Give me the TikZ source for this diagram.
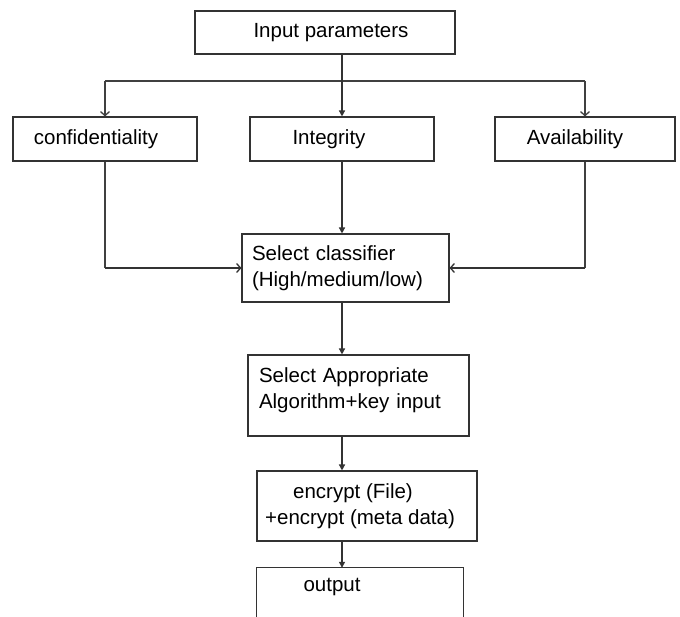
\documentclass[tikz,border=0pt]{standalone}
\usepackage{fontspec}
\setmainfont{Liberation Sans}
\usetikzlibrary{arrows.meta,shadows}
\begin{document}
\begin{tikzpicture}[x=1pt,y=-1pt,
  box/.style={draw=black!80, fill=white, line width=1.1pt, rectangle, inner sep=0pt,
    drop shadow={shadow xshift=1.3pt, shadow yshift=-1.3pt, fill=black!45, opacity=1},
    font=\fontsize{20.5}{26}\selectfont},
  thin/.style={draw=black!80, line width=1.4pt},
  thick/.style={draw=black!75, line width=2.8pt},
  filledtip/.style={-{Triangle[length=6pt,width=6pt]}},
  opentip/.style={-{Straight Barb[length=4pt,width=9pt,line width=1.3pt]}}
]
\useasboundingbox (0,0) rectangle (680,617);
\fill[white] (0,0) rectangle (680,617);

% boxes
\node[box, minimum width=260pt, minimum height=43pt] (inp) at (325,32.5) {\hspace{12pt}Input parameters};
\node[box, minimum width=184pt, minimum height=44pt] (conf) at (105,139) {\hspace{-18pt}confidentiality};
\node[box, minimum width=184pt, minimum height=44pt] (integ) at (342,139) {\hspace{-26pt}Integrity};
\node[box, minimum width=180pt, minimum height=44pt] (avail) at (585,139) {\hspace{-20pt}Availability};
\node[box, minimum width=207pt, minimum height=68pt, align=left, text width=187pt] (cls) at (345.5,268) {Select classifier\\(High/medium/low)};
\node[box, minimum width=221pt, minimum height=81pt, align=left, text width=199pt] (alg) at (358.5,395.5) {Select Appropriate\\Algorithm+key input\\[-12pt]\mbox{}};
\node[box, minimum width=220pt, minimum height=70pt, align=center] (enc) at (367,506) {\hspace{-28pt}encrypt (File)\\\hspace{-14pt}+encrypt (meta data)};
\node[minimum width=206pt, minimum height=49pt, inner sep=0pt] (out) at (360,592.5) {};
\node[font=\fontsize{20.5}{26}\selectfont, inner sep=0pt] (outtxt) at (332,587) {output};
\draw[draw=black!80, line width=1.1pt] (out.south west) |- (out.north east) -- (out.south east);

% top distribution
\coordinate (hl) at (105,81);
\coordinate (hr) at (585,81);
\draw[thick] (hl) -- (hr);
\draw[thin] (inp.south -| integ.north) -- (integ.north |- hl);
\draw[thick, opentip] (hl) -- (conf.north);
\draw[thick, opentip] (hr) -- (avail.north);
\draw[thin, filledtip] (integ.north |- hl) -- (integ.north);

% to classifier
\draw[thick] (conf.south) -- (conf.south |- cls.west);
\draw[thin, opentip] (conf.south |- cls.west) -- (cls.west);
\draw[thick] (avail.south) -- (avail.south |- cls.east);
\draw[thin, opentip] (avail.south |- cls.east) -- (cls.east);
\draw[thin, filledtip] (integ.south) -- (integ.south |- cls.north);

% chain
\draw[thin, filledtip] (cls.south -| integ.south) -- (alg.north -| integ.south);
\draw[thin, filledtip] (alg.south -| integ.south) -- (enc.north -| integ.south);
\draw[thin, filledtip] (enc.south -| integ.south) -- (out.north -| integ.south);
\end{tikzpicture}
\end{document}
